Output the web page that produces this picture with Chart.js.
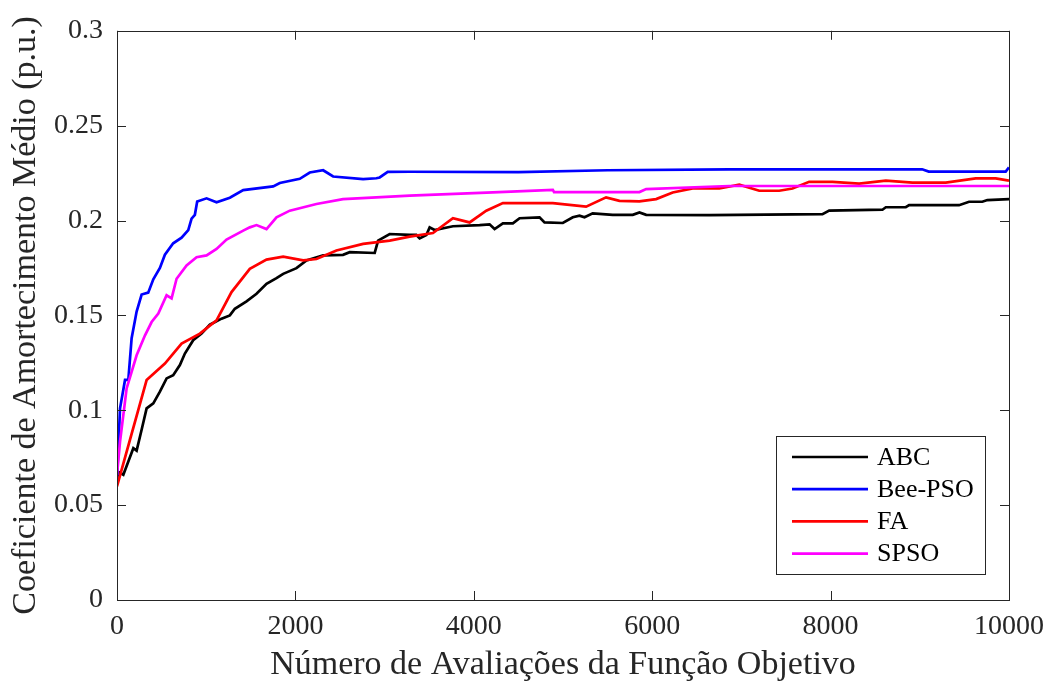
<!DOCTYPE html>
<html>
<head>
<meta charset="utf-8">
<script src="https://cdn.jsdelivr.net/npm/chart.js@4.4.1/dist/chart.umd.min.js"></script>
<style>
  html, body { margin: 0; padding: 0; background: #fff; }
  #wrap { width: 1054px; height: 688px; }
</style>
</head>
<body>
<div id="wrap"><canvas id="conv-chart" width="1054" height="688"></canvas></div>
<script>
// axis tick labels
const xTicks = ['0', '2000', '4000', '6000', '8000', '10000'];
const yTicks = ['0', '0.05', '0.1', '0.15', '0.2', '0.25', '0.3'];

// series names
const seriesNames = ['ABC', 'Bee-PSO', 'FA', 'SPSO'];

// ABC
const abcX = [0, 15, 71, 127, 183, 220, 276, 332, 407, 481, 556, 630, 705, 761, 854, 948, 1041, 1172, 1265, 1321,
  1452, 1564, 1676, 1788, 1863, 2012, 2124, 2311, 2534, 2609, 2889, 2927, 3057, 3281, 3356, 3393, 3468, 3505, 3561, 3766,
  4065, 4177, 4233, 4326, 4438, 4513, 4737, 4793, 4998, 5110, 5185, 5241, 5333, 5557, 5782, 5857, 5932, 6641, 7909, 7984,
  8581, 8619, 8843, 8880, 9440, 9552, 9701, 9757, 10000];
const abcY = [0.064, 0.0675, 0.066, 0.073, 0.080, 0.0787, 0.0897, 0.101, 0.1036, 0.1098, 0.1168, 0.1185, 0.1238, 0.1299, 0.1369, 0.1404, 0.1451, 0.1483, 0.150, 0.1535,
  0.1574, 0.1614, 0.1667, 0.1696, 0.1719, 0.1749, 0.179, 0.1816, 0.1819, 0.1833, 0.1829, 0.1894, 0.1929, 0.1924, 0.1924, 0.1906, 0.1924, 0.1964, 0.195, 0.197,
  0.1976, 0.198, 0.1955, 0.1985, 0.1985, 0.2012, 0.2017, 0.199, 0.1987, 0.2017, 0.2026, 0.2017, 0.2038, 0.203, 0.203, 0.2043, 0.203, 0.2028, 0.2034, 0.2052,
  0.2057, 0.207, 0.207, 0.2081, 0.2081, 0.2099, 0.2099, 0.2108, 0.2113];

// Bee-PSO
const beeX = [0, 34, 90, 127, 164, 220, 276, 350, 407, 481, 537, 630, 724, 799, 836, 873, 899, 1004, 1116, 1265,
  1415, 1751, 1825, 2049, 2161, 2311, 2423, 2759, 2908, 2945, 3035, 3281, 4500, 5500, 6864, 9026, 9100, 9963, 10000];
const beeY = [0.064, 0.101, 0.116, 0.116, 0.138, 0.152, 0.161, 0.162, 0.169, 0.175, 0.182, 0.188, 0.191, 0.195, 0.201, 0.203, 0.210, 0.2117, 0.2096, 0.212,
  0.216, 0.218, 0.2198, 0.222, 0.2253, 0.2265, 0.2232, 0.2218, 0.2223, 0.2227, 0.2256, 0.2257, 0.2255, 0.2265, 0.227, 0.227, 0.2258, 0.2258, 0.228];

// FA
const faX = [0, 332, 537, 724, 929, 1116, 1284, 1489, 1676, 1863, 2087, 2236, 2460, 2759, 3057, 3281, 3542, 3766, 3953, 4140,
  4326, 4886, 5259, 5483, 5633, 5857, 6044, 6230, 6454, 6753, 6976, 7200, 7424, 7573, 7760, 8021, 8320, 8619, 8917, 9291,
  9627, 9851, 10000];
const faY = [0.0599, 0.1159, 0.1246, 0.1351, 0.1404, 0.1474, 0.1623, 0.1745, 0.1794, 0.181, 0.179, 0.1797, 0.1842, 0.1877, 0.1894, 0.1915, 0.1934, 0.2012, 0.199, 0.2052,
  0.2092, 0.2092, 0.2073, 0.2122, 0.2104, 0.2101, 0.2113, 0.2148, 0.2169, 0.2169, 0.2189, 0.2157, 0.2157, 0.2169, 0.2204, 0.2204, 0.2195, 0.221, 0.22, 0.22,
  0.2222, 0.2222, 0.221];

// SPSO
const spsoX = [0, 34, 108, 220, 314, 388, 463, 556, 612, 668, 780, 892, 1004, 1116, 1228, 1415, 1489, 1564, 1676, 1788,
  1937, 2236, 2534, 2908, 3281, 4214, 4886, 4900, 5857, 5932, 6864, 10000];
const spsoY = [0.066, 0.0835, 0.1115, 0.129, 0.1395, 0.1465, 0.151, 0.1606, 0.159, 0.1693, 0.1763, 0.1807, 0.1816, 0.185, 0.190, 0.1947, 0.1964, 0.1976, 0.1955, 0.2017,
  0.2052, 0.2087, 0.2113, 0.2122, 0.2131, 0.2148, 0.2162, 0.215, 0.215, 0.2166, 0.2182, 0.2182];

const FONT = '"Liberation Serif", "Times New Roman", serif';
const TEXT = '#262626';

function toPoints(xs, ys) {
  return xs.map((x, i) => ({ x: x, y: ys[i] }));
}

function makeSet(label, xs, ys, color, order) {
  return {
    label: label,
    data: toPoints(xs, ys),
    borderColor: color,
    backgroundColor: color,
    borderWidth: 2.7,
    pointRadius: 0,
    tension: 0,
    fill: false,
    order: order
  };
}

// MATLAB-like box with inward ticks on all four sides
const boxPlugin = {
  id: 'matlabBox',
  afterDatasetsDraw(chart) {
    const { ctx, chartArea: a, scales } = chart;
    const len = 9;
    ctx.save();
    ctx.strokeStyle = TEXT;
    ctx.lineWidth = 1;
    ctx.beginPath();
    scales.x.ticks.forEach(t => {
      const px = Math.round(scales.x.getPixelForValue(t.value)) + 0.5;
      ctx.moveTo(px, a.bottom); ctx.lineTo(px, a.bottom - len);
      ctx.moveTo(px, a.top); ctx.lineTo(px, a.top + len);
    });
    scales.y.ticks.forEach(t => {
      const py = Math.round(scales.y.getPixelForValue(t.value)) + 0.5;
      ctx.moveTo(a.left, py); ctx.lineTo(a.left + len, py);
      ctx.moveTo(a.right, py); ctx.lineTo(a.right - len, py);
    });
    ctx.stroke();
    ctx.strokeRect(Math.round(a.left) + 0.5, Math.round(a.top) + 0.5,
      Math.round(a.right - a.left), Math.round(a.bottom - a.top));
    ctx.restore();
  }
};

// legend box inside the lower right corner of the plot
const legendPlugin = {
  id: 'boxLegend',
  afterDraw(chart) {
    const { ctx, chartArea: a } = chart;
    const w = 209, h = 138;
    const x0 = a.right - 24 - w, y0 = a.bottom - 26 - h;
    ctx.save();
    ctx.fillStyle = '#fff';
    ctx.fillRect(x0, y0, w, h);
    ctx.strokeStyle = TEXT;
    ctx.lineWidth = 1;
    ctx.strokeRect(x0 + 0.5, y0 + 0.5, w, h);
    ctx.font = '26px ' + FONT;
    ctx.textBaseline = 'middle';
    chart.data.datasets.forEach((ds, i) => {
      const y = y0 + 21 + i * 32.2;
      ctx.strokeStyle = ds.borderColor;
      ctx.lineWidth = 2.7;
      ctx.beginPath();
      ctx.moveTo(x0 + 16, y);
      ctx.lineTo(x0 + 92, y);
      ctx.stroke();
      ctx.fillStyle = '#000';
      ctx.fillText(ds.label, x0 + 101, y + 1);
    });
    ctx.restore();
  }
};

const ctx = document.getElementById('conv-chart').getContext('2d');
new Chart(ctx, {
  type: 'line',
  data: {
    datasets: [
      makeSet(seriesNames[0], abcX, abcY, '#000000', 4),
      makeSet(seriesNames[1], beeX, beeY, '#0000ff', 3),
      makeSet(seriesNames[2], faX, faY, '#ff0000', 2),
      makeSet(seriesNames[3], spsoX, spsoY, '#ff00ff', 1)
    ]
  },
  options: {
    responsive: false,
    animation: false,
    layout: { padding: { left: 0, right: 44, top: 29, bottom: 0 } },
    plugins: {
      legend: { display: false },
      tooltip: { enabled: false }
    },
    scales: {
      x: {
        type: 'linear',
        min: 0,
        max: 10000,
        grid: { display: false, drawTicks: false },
        border: { display: false },
        ticks: {
          stepSize: 2000,
          padding: 10,
          maxRotation: 0,
          color: TEXT,
          font: { family: FONT, size: 28 },
          callback: (v, i) => xTicks[i]
        },
        title: {
          display: true,
          text: 'Número de Avaliações da Função Objetivo',
          color: TEXT,
          font: { family: FONT, size: 34 },
          padding: { top: 0, bottom: 3 }
        },
        afterFit: s => { s.height = 88; }
      },
      y: {
        min: 0,
        max: 0.3,
        grid: { display: false, drawTicks: false },
        border: { display: false },
        ticks: {
          stepSize: 0.05,
          padding: 14,
          color: TEXT,
          font: { family: FONT, size: 28 },
          callback: (v, i) => yTicks[i]
        },
        title: {
          display: true,
          text: 'Coeficiente de Amortecimento Médio (p.u.)',
          color: TEXT,
          font: { family: FONT, size: 34 },
          padding: { top: 6, bottom: 0 }
        },
        afterFit: s => { s.width = 117; }
      }
    }
  },
  plugins: [boxPlugin, legendPlugin]
});
</script>
</body>
</html>
